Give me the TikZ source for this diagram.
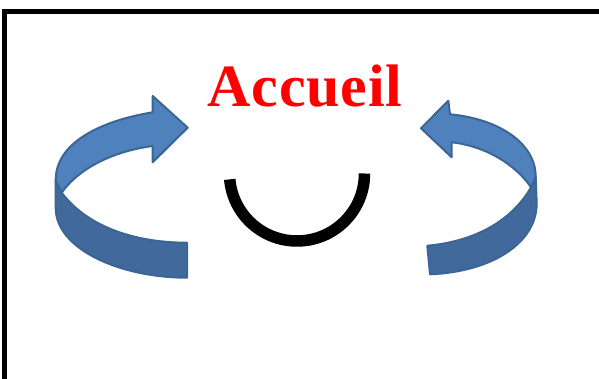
\documentclass[tikz,border=0pt]{standalone}
\usepackage{fontspec}
\setmainfont{Liberation Serif}
\newfontfamily\titlefont[LetterSpace=1.4]{Liberation Serif}
\definecolor{armlight}{HTML}{4F81BD}
\definecolor{armdark}{HTML}{41699C}
\definecolor{armedge}{HTML}{3A6594}
\tikzset{
    armtop/.style={fill=armlight, draw=armedge, line width=2pt, line join=round},
    armbottom/.style={fill=armdark, draw=armedge, line width=2pt, line join=round}
}
\begin{document}
\begin{tikzpicture}[x=1pt, y=1pt]
    \useasboundingbox (0,0) rectangle (599,379);
    \draw [line width=4.6pt] (4.5,0) -- (4.5,367.5) -- (599,367.5);
    \node [anchor=base, text=red, inner sep=0pt, font=\titlefont\fontsize{60}{60}\selectfont\bfseries] (accueil) at (305,272.3) {Accueil};
    \draw [line width=11.5pt] (364.5,205.5) arc [start angle=0, end angle=-175, radius=67.5];
    \draw [armbottom] (61.7,186.3) .. controls (85,155) and (130,136.3) .. (187,136.3) -- (187,101.3) .. controls (120,101.3) and (55.7,130) .. (55.7,171) -- (55.7,199) -- cycle;
    \draw [armtop] (187.7,251.3) -- (152.7,283) -- (152.7,266.7) .. controls (100,258) and (55.7,236) .. (55.7,199) -- (61.7,186.3) .. controls (80,212) and (115,228) .. (152.7,233) -- (152.7,216.7) -- cycle;
    \draw [armbottom] (531,191.7) .. controls (510,155) and (470,137) .. (427.3,133.3) -- (430,104.7) .. controls (490,107) and (536.7,135) .. (536.7,175.7) -- (535.7,202.3) -- cycle;
    \draw [armtop] (421,250.7) -- (448.3,278.3) -- (450,264.7) .. controls (500,260) and (535.7,235) .. (535.7,202.3) -- (531,191.7) .. controls (515,215) and (485,233) .. (451.7,236.7) -- (451.7,221.7) -- cycle;
\end{tikzpicture}
\end{document}
